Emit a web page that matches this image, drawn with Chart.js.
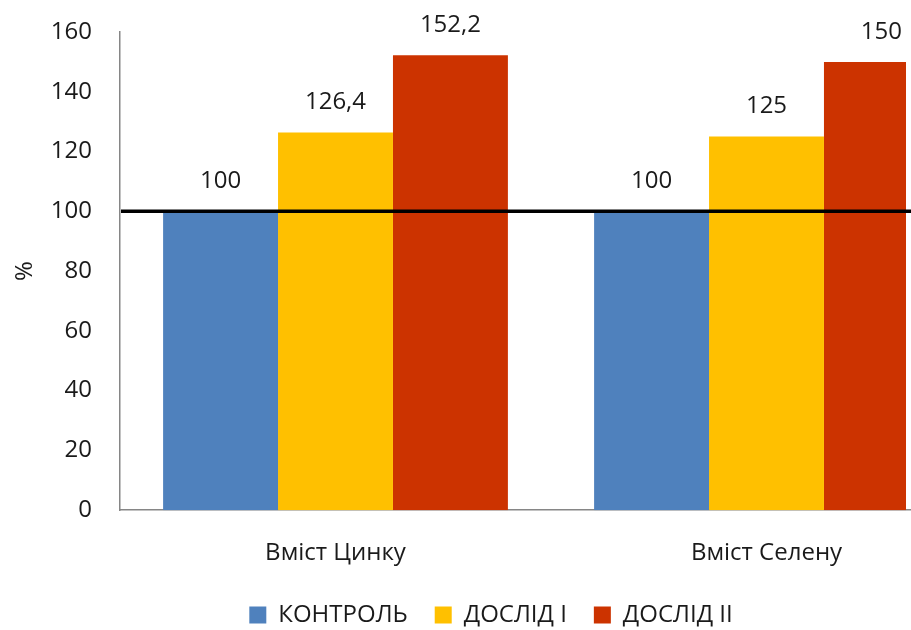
<!DOCTYPE html>
<html>
<head>
<meta charset="utf-8">
<script src="https://cdn.jsdelivr.net/npm/chart.js@4"></script>
<style>
  html, body { margin: 0; padding: 0; background: #fff; overflow: hidden; }
  #wrap { width: 990px; height: 630px; }
</style>
</head>
<body>
<div id="wrap"><canvas id="chart"></canvas></div>
<script>
const categories = ['Вміст Цинку', 'Вміст Селену']
const seriesNames = ['КОНТРОЛЬ', 'ДОСЛІД І', 'ДОСЛІД ІІ']
const kontrol = [100, 100]
const doslid1 = [126.4, 125]
const doslid2 = [152.2, 150]
const yTicks = [0, 20, 40, 60, 80, 100, 120, 140, 160]
const referenceLine = [100]

const colors = ['#4F81BD', '#FFC000', '#CC3300']
const font = "'Open Sans', sans-serif"

// values above bars, decimal comma
const valueLabels = {
  id: 'valueLabels',
  afterDatasetsDraw(chart) {
    const ctx = chart.ctx
    ctx.save()
    ctx.font = '24px ' + font
    ctx.fillStyle = '#1a1a1a'
    ctx.textAlign = 'center'
    ctx.textBaseline = 'middle'
    chart.data.datasets.forEach((ds, i) => {
      chart.getDatasetMeta(i).data.forEach((bar, j) => {
        ctx.fillText(String(ds.data[j]).replace('.', ','), bar.x, bar.y - 30)
      })
    })
    ctx.restore()
  }
}

// black line at 100 %
const refLine = {
  id: 'refLine',
  afterDatasetsDraw(chart) {
    const ctx = chart.ctx
    const y = chart.scales.y.getPixelForValue(referenceLine[0])
    ctx.save()
    ctx.strokeStyle = '#000'
    ctx.lineWidth = 3.5
    ctx.beginPath()
    ctx.moveTo(chart.chartArea.left + 1, y)
    ctx.lineTo(chart.chartArea.right, y)
    ctx.stroke()
    ctx.restore()
  }
}

const ctx = document.getElementById('chart').getContext('2d')
const chart = new Chart(ctx, {
  type: 'bar',
  data: {
    labels: categories,
    datasets: [kontrol, doslid1, doslid2].map((d, i) => ({
      label: seriesNames[i],
      data: d,
      backgroundColor: colors[i],
      borderWidth: 0,
      categoryPercentage: 0.8,
      barPercentage: 1,
      clip: { left: 0, top: 10, right: -76, bottom: 0 },
    })),
  },
  options: {
    responsive: true,
    maintainAspectRatio: false,
    animation: false,
    layout: { padding: { top: 32, right: 8, left: 0, bottom: -7 } },
    plugins: {
      tooltip: { enabled: false },
      legend: {
        position: 'bottom',
        labels: {
          font: { family: font, size: 24 },
          color: '#1a1a1a',
          boxWidth: 17,
          boxHeight: 17,
          padding: 27,
        },
      },
    },
    scales: {
      x: {
        grid: { display: false, drawTicks: false },
        border: { color: '#868686', width: 1.5 },
        ticks: { font: { family: font, size: 24 }, color: '#1a1a1a', padding: 29 },
        afterFit: scale => { scale.height = scale.height - 21 },
      },
      y: {
        min: 0,
        max: 160,
        afterBuildTicks: scale => { scale.ticks = yTicks.map(v => ({ value: v })) },
        afterFit: scale => {
          scale.width = 120
          scale.paddingTop = 0
          scale.paddingBottom = 0
        },
        grid: { display: false, drawTicks: false },
        border: { color: '#868686', width: 1.5 },
        ticks: { font: { family: font, size: 24 }, color: '#1a1a1a', padding: 28 },
        title: {
          display: true,
          text: '%',
          font: { family: font, size: 24 },
          color: '#1a1a1a',
          padding: { top: 11, bottom: 0 },
        },
      },
    },
  },
  plugins: [valueLabels, refLine],
})
</script>
</body>
</html>
